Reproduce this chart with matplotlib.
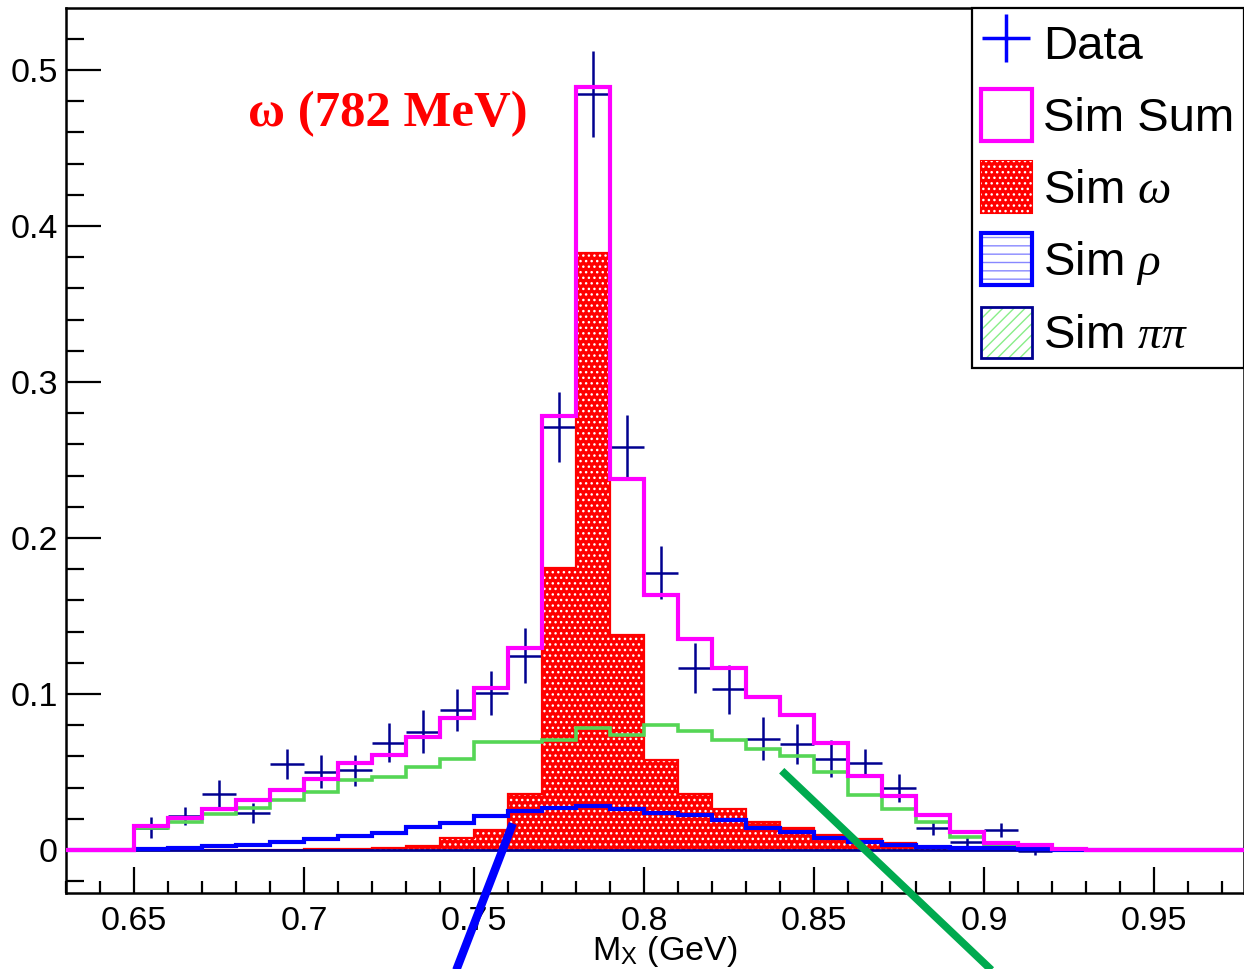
import matplotlib
matplotlib.use("Agg")
import matplotlib.pyplot as plt
from matplotlib.lines import Line2D
from matplotlib.patches import Patch
from matplotlib.ticker import MultipleLocator, FuncFormatter
import numpy as np

# ── Data (bins of 0.01 GeV from 0.63 to 0.98) ──────────────────────────────────

EDGES = np.round(np.arange(0.63, 0.98 + 1e-9, 0.01), 3)

SIM_SUM = [0, 0,
           0.0155, 0.0205, 0.026, 0.032, 0.0385, 0.0453, 0.056, 0.061, 0.0726, 0.0848,
           0.1040, 0.1296, 0.2785, 0.4890, 0.2378, 0.1637, 0.1350, 0.1168, 0.098, 0.0865,
           0.0684, 0.0474, 0.0346, 0.0224, 0.0113, 0.0046, 0.0033, 0.0008,
           0, 0, 0, 0, 0]

SIM_OMEGA = [0, 0,
             0, 0, 0, 0, 0, 0.0004, 0.0005, 0.0012, 0.0025, 0.0075,
             0.0130, 0.0357, 0.1810, 0.3825, 0.1380, 0.0577, 0.0360, 0.0265, 0.018, 0.0143,
             0.0094, 0.0069, 0.0047, 0.0020, 0.0010, 0.0005, 0, 0,
             0, 0, 0, 0, 0]

SIM_RHO = [0, 0,
           0.0007, 0.0015, 0.0025, 0.0035, 0.0052, 0.0072, 0.0090, 0.0110, 0.0150, 0.0176,
           0.0218, 0.0250, 0.0271, 0.0282, 0.0260, 0.0240, 0.0226, 0.0194, 0.0143, 0.0117,
           0.0079, 0.0051, 0.0032, 0.0022, 0.0015, 0.0010, 0.0006, 0,
           0, 0, 0, 0, 0]

SIM_PIPI = [0, 0,
            0.0143, 0.0180, 0.0230, 0.0270, 0.0320, 0.0370, 0.0450, 0.0470, 0.0535, 0.0585,
            0.0690, 0.0695, 0.0705, 0.0784, 0.0740, 0.0800, 0.0763, 0.0708, 0.0646, 0.0603,
            0.0500, 0.0350, 0.0260, 0.0180, 0.0083, 0.0026, 0.0010, 0,
            0, 0, 0, 0, 0]

DATA_X = [0.655, 0.665, 0.675, 0.685, 0.695, 0.705, 0.715, 0.725, 0.735, 0.745,
          0.755, 0.765, 0.775, 0.785, 0.795, 0.805, 0.815, 0.825, 0.835, 0.845,
          0.855, 0.865, 0.875, 0.885, 0.895, 0.905, 0.915]
DATA_Y = [0.0143, 0.0218, 0.0357, 0.0239, 0.0549, 0.0502, 0.0511, 0.0688, 0.0758, 0.0896,
          0.1008, 0.1244, 0.2712, 0.4848, 0.2585, 0.1778, 0.1165, 0.1030, 0.0714, 0.0678,
          0.0585, 0.0560, 0.0396, 0.0143, 0.0050, 0.0128, -0.0005]
DATA_ERR = [0.0068, 0.0059, 0.0094, 0.0064, 0.0096, 0.0105, 0.0100, 0.0125, 0.0138, 0.0135,
            0.0141, 0.0176, 0.0224, 0.0276, 0.0205, 0.0168, 0.0160, 0.0157, 0.0139, 0.0128,
            0.0118, 0.0090, 0.0090, 0.0045, 0.0030, 0.0044, 0.0028]

# two thick guide lines drawn across the frame (x, y endpoints in data units)
BLUE_GUIDE = ([0.7614, 0.7430], [0.0170, -0.0870])
GREEN_GUIDE = ([0.8405, 0.9080], [0.0508, -0.0890])

LABELS = ["Data", "Sim Sum", "Sim $\\omega$", "Sim $\\rho$", "Sim $\\pi\\pi$"]

MAGENTA = "#ff00ff"
GREEN = "#55d655"
NAVY = "#000090"

plt.rcParams["font.family"] = ["Liberation Sans", "DejaVu Sans"]
plt.rcParams["mathtext.fontset"] = "custom"
plt.rcParams["mathtext.rm"] = "Liberation Sans"
plt.rcParams["mathtext.it"] = "Liberation Serif:italic"
plt.rcParams["hatch.linewidth"] = 1.0

fig = plt.figure(figsize=(12.44, 9.69), dpi=100)
ax = fig.add_axes([0.0531, 0.0784, 0.9469, 0.9133])

bin_w = EDGES[1] - EDGES[0]

# data crosses
ax.errorbar(DATA_X, DATA_Y, xerr=bin_w / 2, yerr=DATA_ERR, fmt="none",
            ecolor=NAVY, elinewidth=1.8, capsize=0, zorder=2)

# omega: red fill with white dot pattern
ax.stairs(SIM_OMEGA, EDGES, fill=True, color="red", lw=0, zorder=3)
ax.stairs(SIM_OMEGA, EDGES, fill=True, facecolor="none", edgecolor="white",
          hatch="...", lw=0, zorder=3.1)
ax.stairs(SIM_OMEGA, EDGES, color="red", lw=1.6, zorder=3.2)

ax.hlines(0, EDGES[2], EDGES[-6], color=NAVY, lw=2, zorder=3.3)
ax.stairs(SIM_PIPI, EDGES, color=GREEN, lw=2.6, zorder=4)
ax.stairs(SIM_RHO, EDGES, color="blue", lw=3, zorder=5)
ax.stairs(SIM_SUM, EDGES, color=MAGENTA, lw=3, zorder=6)

ax.plot(*BLUE_GUIDE, color="blue", lw=6, clip_on=False, solid_capstyle="butt", zorder=7)
ax.plot(*GREEN_GUIDE, color="#00aa4f", lw=5.5, clip_on=False, solid_capstyle="butt", zorder=7)

ax.text(0.6834, 0.4715, "\u03c9 (782 MeV)", color="red", fontsize=36.5,
        fontweight="bold", family="Liberation Serif", ha="left", va="center")

ax.set_xlim(0.63, 0.97647)
ax.set_ylim(-0.0276, 0.5397)

ax.xaxis.set_major_locator(MultipleLocator(0.05))
ax.xaxis.set_minor_locator(MultipleLocator(0.01))
ax.yaxis.set_major_locator(MultipleLocator(0.1))
ax.yaxis.set_minor_locator(MultipleLocator(0.02))
ax.xaxis.set_major_formatter(FuncFormatter(lambda v, p: f"{v:g}"))
ax.yaxis.set_major_formatter(FuncFormatter(lambda v, p: f"{round(v, 3):g}"))

ax.tick_params(axis="both", which="both", direction="in", top=False, right=False,
               width=1.6, labelsize=24.5, pad=9)
ax.tick_params(axis="x", which="major", length=19)
ax.tick_params(axis="x", which="minor", length=9)
ax.tick_params(axis="y", which="major", length=25, pad=6)
ax.tick_params(axis="y", which="minor", length=13)
for spine in ax.spines.values():
    spine.set_linewidth(1.8)

ax.set_xlabel("M$_{\\mathrm{X}}$ (GeV)", fontsize=24.5, labelpad=0)
ax.xaxis.set_label_coords(0.508, -0.046)

handles = [
    Line2D([0], [0], color="blue", marker="+", markersize=34, mew=2.5, linestyle="None"),
    Patch(facecolor="white", edgecolor=MAGENTA, lw=3),
    (Patch(facecolor="red", edgecolor="red", lw=1.5),
     Patch(facecolor="none", edgecolor="white", hatch="...", lw=0)),
    (Patch(facecolor="none", edgecolor="#8888ff", hatch="--", lw=0),
     Patch(facecolor="none", edgecolor="blue", lw=3)),
    (Patch(facecolor="none", edgecolor="#88ee88", hatch="///", lw=0),
     Patch(facecolor="none", edgecolor=NAVY, lw=2)),
]
leg = ax.legend(handles, LABELS, loc="upper right", bbox_to_anchor=(1.0, 1.0),
                borderaxespad=0, fontsize=34, handlelength=1.06, handleheight=1.3,
                handletextpad=0.25, labelspacing=0.43, borderpad=0.2,
                fancybox=False, framealpha=1, edgecolor="black")
leg.get_frame().set_linewidth(1.6)
leg.set_zorder(10)

fig.savefig("out.png", dpi=100, facecolor="white")
